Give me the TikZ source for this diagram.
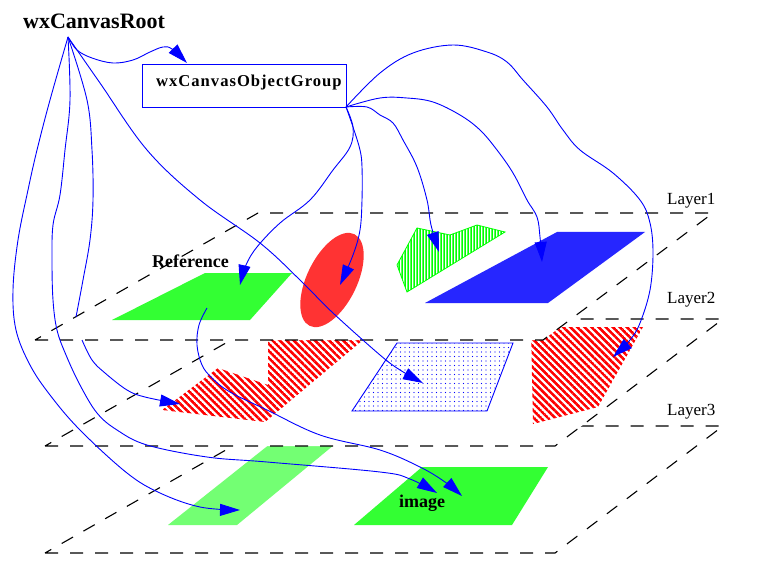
\documentclass[tikz,border=0pt]{standalone}
\usepackage{fontspec}
\setmainfont{Liberation Serif}
\usetikzlibrary{arrows.meta,patterns.meta}

\definecolor{pgreen}{RGB}{0,255,0}
\definecolor{pblue}{RGB}{0,0,255}
\definecolor{pred}{RGB}{255,0,0}

\tikzdeclarepattern{
  name=redhatch,
  type=uncolored,
  bounding box={(0pt,-1.3pt) and (5pt,1.3pt)},
  tile size={(5pt,5pt)},
  tile transformation={rotate=-45},
  code={\draw[line width=2.6pt] (0pt,0pt) -- (5pt,0pt);}
}
\tikzdeclarepattern{
  name=vstripes,
  type=uncolored,
  bounding box={(-0.75pt,0pt) and (0.75pt,3pt)},
  tile size={(3pt,3pt)},
  code={\draw[line width=1.5pt] (0pt,0pt) -- (0pt,3pt);}
}
\tikzdeclarepattern{
  name=sparsedots,
  type=uncolored,
  bounding box={(-0.7pt,-0.7pt) and (0.7pt,0.7pt)},
  tile size={(4.5pt,4.5pt)},
  code={\fill (0pt,0pt) circle (0.7pt);}
}

\tikzset{
  layer/.style={draw=black, fill=white, line width=1.1pt, dash pattern=on 13pt off 12pt},
  arr/.style={draw=pblue, line width=0.9pt, -{Triangle[length=20pt,width=12pt]}},
  arrline/.style={draw=pblue, line width=0.9pt},
  lbl/.style={inner sep=0pt, anchor=base west, font=\fontsize{17}{19}\selectfont},
  blbl/.style={inner sep=0pt, anchor=base west, font=\fontsize{18}{20}\selectfont\bfseries},
}

\begin{document}
\begin{tikzpicture}[x=1pt,y=-1pt]
\useasboundingbox (0,0) rectangle (762,577);

% ---------- Layer 3 ----------
\path[layer] (45,553) -- (555,553) -- (723,426) -- (268,426) -- cycle;
\fill[pgreen!55!white] (168,525) -- (237,525) -- (340,440) -- (275,440) -- cycle;
\fill[pgreen!80!white] (354,525) -- (512,525) -- (548,467) -- (422,467) -- cycle;

% ---------- Layer 2 ----------
\path[layer] (45,446) -- (555,446) -- (723,319) -- (268,319) -- cycle;
\path[pattern=redhatch, pattern color=pred] (268,340) -- (363,340) -- (265,422) -- (162,410) -- (218,368) -- (268,385) -- cycle;
\draw[pblue, line width=0.9pt, fill=white] (352,411) -- (487,411) -- (513,343) -- (397,343) -- cycle;
\path[pattern=sparsedots, pattern color=pblue] (352,411) -- (487,411) -- (513,343) -- (397,343) -- cycle;
\path[pattern=redhatch, pattern color=pred] (531,327) -- (643,327) -- (598,407) -- (533,424) -- cycle;

% ---------- Layer 1 ----------
\path[layer] (35,340) -- (543,340) -- (713,213) -- (258,213) -- cycle;
\fill[pgreen!80!white] (112,320) -- (250,320) -- (292,273) -- (205,273) -- cycle;
\fill[pred!80!white, rotate around={64:(332,280)}] (332,280) ellipse [x radius=51, y radius=25];
\path[pattern=vstripes, pattern color=pgreen] (417,228) -- (450,235) -- (477,225) -- (505,232) -- (407,292) -- (397,265) -- cycle;
\draw[pgreen, line width=0.8pt] (417,228) -- (450,235) -- (477,225) -- (505,232) -- (407,292) -- (397,265) -- cycle;
\fill[pblue!85!white] (425,303) -- (548,303) -- (645,232) -- (557,232) -- cycle;

% ---------- labels ----------
\node[lbl] (l1) at (667,205) {Layer1};
\node[lbl] (l2) at (667,303) {Layer2};
\node[lbl] (l3) at (667,415) {Layer3};
\node[blbl] (ref) at (152,267) {Reference};
\node[blbl] (img) at (399,507) {image};

\node[inner sep=0pt, anchor=base west, font=\fontsize{22}{24}\selectfont\bfseries] (root) at (23,29) {wxCanvasRoot};
\node[draw=pblue, fill=white, line width=0.9pt, inner sep=0pt, minimum width=204pt, minimum height=43pt, anchor=north west] (grp) at (142,64) {};
\node[inner sep=0pt, anchor=base west, font=\fontsize{16.6}{18}\selectfont\bfseries\addfontfeature{LetterSpace=6}] (grptext) at (156,87) {wxCanvasObjectGroup};

% ---------- connector coordinates ----------
\coordinate (R) at (68,37);
\coordinate (G) at (346,107);
\coordinate (tA) at (187,63);
\coordinate (tB) at (240,510);
\coordinate (tC) at (437,493);
\coordinate (dEnd) at (76,317);
\coordinate (eStart) at (82,340);
\coordinate (tE) at (180,404);
\coordinate (tF) at (423,383);
\coordinate (hStart) at (207,308);
\coordinate (tH) at (462,496);
\coordinate (tI) at (613,357);
\coordinate (tJ) at (542,262);
\coordinate (tK) at (439,252);
\coordinate (tL) at (240,285);
\coordinate (tM) at (340,285);

% ---------- connectors ----------
\draw[arr] plot[smooth, tension=0.6] coordinates {(R) (77,50) (92,58) (113,63) (133,60) (150,52) (163,47) (172,49) (tA)};
\draw[arr] plot[smooth, tension=0.6] coordinates {(R) (50,100) (37,150) (28,190) (18,240) (13,290) (16,330) (30,365) (50,395) (80,430) (127,473) (160,493) (200,507) (tB)};
\draw[arr] plot[smooth, tension=0.6] coordinates {(R) (70,100) (65,150) (60,195) (53,225) (52,260) (53,300) (57,330) (66,355) (80,385) (97,413) (117,430) (147,445) (207,457) (267,462) (380,472) (410,479) (tC)};
\draw[arrline] plot[smooth, tension=0.6] coordinates {(R) (87,100) (92,150) (93,200) (90,240) (83,280) (dEnd)};
\draw[arr] plot[smooth, tension=0.6] coordinates {(eStart) (92,360) (105,373) (127,390) (145,397) (tE)};
\draw[arr] plot[smooth, tension=0.6] coordinates {(R) (100,83) (147,150) (200,200) (260,243) (300,280) (333,313) (380,355) (400,370) (tF)};
\draw[arr] plot[smooth, tension=0.6] coordinates {(hStart) (199,325) (197,345) (202,365) (212,378) (230,392) (267,410) (320,435) (380,450) (420,467) (445,482) (tH)};
\draw[arr] plot[smooth, tension=0.6] coordinates {(G) (380,73) (413,53) (453,45) (487,52) (507,62) (523,80) (547,107) (563,130) (580,150) (613,173) (640,200) (650,223) (653,253) (650,290) (640,323) (630,340) (tI)};
\draw[arr] plot[smooth, tension=0.6] coordinates {(G) (380,98) (407,98) (433,102) (460,115) (480,130) (497,150) (513,173) (527,200) (537,217) (540,237) (tJ)};
\draw[arr] plot[smooth, tension=0.6] coordinates {(G) (367,107) (380,115) (393,123) (403,140) (417,167) (427,200) (431,225) (tK)};
\draw[arr] plot[smooth, tension=0.6] coordinates {(G) (353,127) (350,147) (333,170) (310,200) (280,223) (257,247) (246,265) (tL)};
\draw[arr] plot[smooth, tension=0.6] coordinates {(G) (353,127) (360,150) (362,167) (362,200) (360,230) (353,255) (tM)};
\end{tikzpicture}
\end{document}
